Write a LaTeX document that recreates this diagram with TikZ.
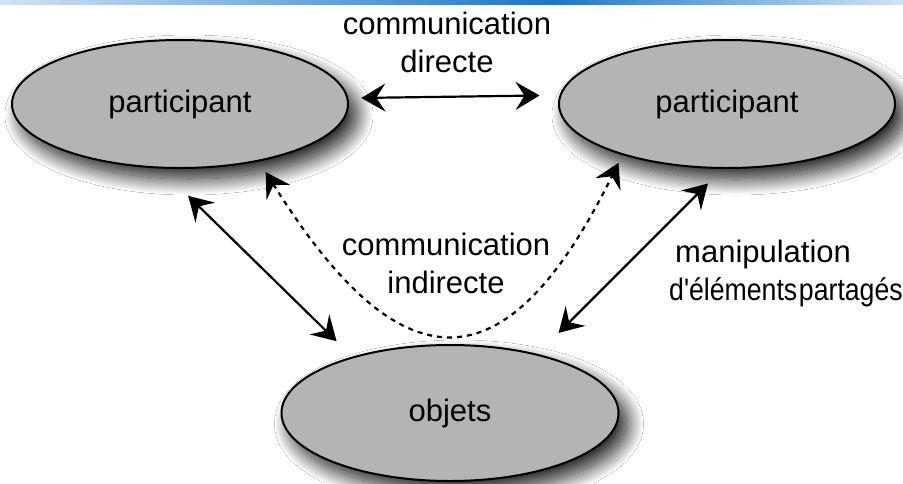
\documentclass[tikz,border=0pt]{standalone}
\usepackage{fontspec}
\setmainfont{Liberation Sans}
\usetikzlibrary{arrows.meta,shapes.geometric,shadows.blur}
\definecolor{ellgray}{RGB}{180,180,180}
\definecolor{barlight}{RGB}{208,228,244}
\definecolor{bardark}{RGB}{28,118,200}
\tikzset{
    entity/.style={ellipse,draw,line width=2pt,fill=ellgray,inner sep=0pt,
        minimum width=336pt,minimum height=128pt,
        blur shadow={shadow xshift=9pt,shadow yshift=-11pt,shadow blur radius=16pt,
            shadow blur steps=30,shadow opacity=90}},
    dedge/.style={{Stealth[length=24pt,width=28pt,inset=9pt]}-{Stealth[length=24pt,width=28pt,inset=9pt]},line width=2.2pt},
    dashedge/.style={dedge,dash pattern=on 5pt off 5pt},
    lbl/.style={align=center,inner sep=0pt},
}

\begin{document}
\begin{tikzpicture}[x=1pt,y=-1pt,font=\fontsize{31}{38}\selectfont]
    \useasboundingbox[fill=white] (0,0) rectangle (903,483);
    \shade[left color=barlight,right color=bardark] (0,0) rectangle (550,4);
    \shade[left color=bardark,right color=barlight] (550,0) rectangle (903,4);
    \node[entity] (part1) at (180,104) {participant};
    \node[entity] (part2) at (727,104) {participant};
    \node[entity,minimum width=337pt,minimum height=136pt] (obj) at (450,413) {\raisebox{-6pt}{objets}};
    \node[lbl] (direct) at (447,42) {communication\\directe};
    \node[lbl] (indirect) at (446,263) {communication\\indirecte};
    \node[lbl,align=left,anchor=west] (manip) at (669,273)
        {\hspace{6pt}manipulation\\\scalebox{0.86}[1]{d\textquotesingle éléments\hspace{2pt}partagés}};
    \draw[dedge,shorten <=13pt,shorten >=20pt] (part1.2.4) -- (part2.177.6);
    \draw[dedge,shorten <=39pt,shorten >=22pt] (part1.-107) -- (obj.150.7);
    \draw[dedge,shorten <=20.5pt,shorten >=29.7pt] (part2.-94) -- (obj.34.8);
    \draw[dashedge,shorten <=12.5pt,shorten >=8.7pt] (part1.-36) .. controls (400,387) and (505,393) .. (part2.-154);
\end{tikzpicture}
\end{document}
